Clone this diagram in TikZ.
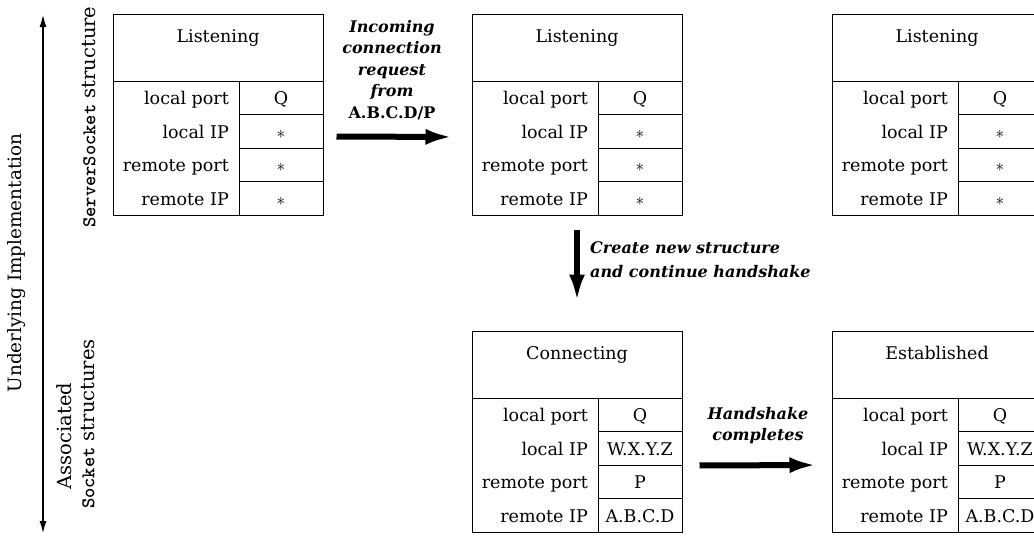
\documentclass[tikz,border=0pt]{standalone}
\usepackage{fontspec}
\setmainfont{DejaVu Serif}
\newfontfamily\codefont{lmmonolt10-bold.otf}
\usetikzlibrary{arrows.meta}

\begin{document}
\begin{tikzpicture}[x = 1pt, y = -1pt, font = \fontsize{17.5}{21}\selectfont]
	\tikzstyle{frameStyle} = [draw, line width = 1pt, inner sep = 0pt, minimum width = 210pt, minimum height = 201pt]
	\tikzstyle{keyStyle} = [draw, line width = 1pt, inner sep = 0pt, minimum width = 126pt, minimum height = 134pt]
	\tikzstyle{valStyle} = [draw, line width = 1pt, inner sep = 0pt, minimum width = 84pt, minimum height = 33.5pt, text height = 15pt, text depth = 1pt]
	\tikzstyle{titleStyle} = [anchor = base, inner sep = 0pt]
	\tikzstyle{fieldStyle} = [anchor = base east, inner sep = 0pt]
	\tikzstyle{noteStyle} = [align = center, inner sep = 0pt, font = \fontsize{16}{21.5}\selectfont\bfseries\itshape]
	\tikzstyle{sideStyle} = [rotate = 90, inner sep = 0pt, font = \fontsize{19.5}{23}\selectfont]
	\tikzstyle{fatArrow} = [line width = 6pt, -{Latex[length = 27pt, width = 16pt]}]
	\tikzstyle{axisArrow} = [line width = 1.2pt, {Latex[length = 12pt, width = 7pt]}-{Latex[length = 12pt, width = 7pt]}]
	\clip (0,0) rectangle (1034,539);

	% first listening structure
	\node[frameStyle] (listenA) at (218,114.5) {};
	\node[titleStyle] (listenA-t) at (218,42) {Listening};
	\node[keyStyle] (listenA-k) at (176,148) {};
	\node[valStyle] (listenA-v1) at (281,97.75) {Q};
	\node[valStyle] (listenA-v2) at (281,131.25) {$\ast$};
	\node[valStyle] (listenA-v3) at (281,164.75) {$\ast$};
	\node[valStyle] (listenA-v4) at (281,198.25) {$\ast$};
	\node[fieldStyle] (listenA-f1) at (229,104.75) {local port};
	\node[fieldStyle] (listenA-f2) at (229,138.25) {local IP};
	\node[fieldStyle] (listenA-f3) at (229,171.75) {remote port};
	\node[fieldStyle] (listenA-f4) at (229,205.25) {remote IP};

	% second listening structure
	\node[frameStyle] (listenB) at (577,114.5) {};
	\node[titleStyle] (listenB-t) at (577,42) {Listening};
	\node[keyStyle] (listenB-k) at (535,148) {};
	\node[valStyle] (listenB-v1) at (640,97.75) {Q};
	\node[valStyle] (listenB-v2) at (640,131.25) {$\ast$};
	\node[valStyle] (listenB-v3) at (640,164.75) {$\ast$};
	\node[valStyle] (listenB-v4) at (640,198.25) {$\ast$};
	\node[fieldStyle] (listenB-f1) at (588,104.75) {local port};
	\node[fieldStyle] (listenB-f2) at (588,138.25) {local IP};
	\node[fieldStyle] (listenB-f3) at (588,171.75) {remote port};
	\node[fieldStyle] (listenB-f4) at (588,205.25) {remote IP};

	% third listening structure
	\node[frameStyle] (listenC) at (937,114.5) {};
	\node[titleStyle] (listenC-t) at (937,42) {Listening};
	\node[keyStyle] (listenC-k) at (895,148) {};
	\node[valStyle] (listenC-v1) at (1000,97.75) {Q};
	\node[valStyle] (listenC-v2) at (1000,131.25) {$\ast$};
	\node[valStyle] (listenC-v3) at (1000,164.75) {$\ast$};
	\node[valStyle] (listenC-v4) at (1000,198.25) {$\ast$};
	\node[fieldStyle] (listenC-f1) at (948,104.75) {local port};
	\node[fieldStyle] (listenC-f2) at (948,138.25) {local IP};
	\node[fieldStyle] (listenC-f3) at (948,171.75) {remote port};
	\node[fieldStyle] (listenC-f4) at (948,205.25) {remote IP};

	% connecting structure
	\node[frameStyle] (connect) at (577,431.5) {};
	\node[titleStyle] (connect-t) at (577,359) {Connecting};
	\node[keyStyle] (connect-k) at (535,465) {};
	\node[valStyle] (connect-v1) at (640,414.75) {Q};
	\node[valStyle] (connect-v2) at (640,448.25) {W.X.Y.Z};
	\node[valStyle] (connect-v3) at (640,481.75) {P};
	\node[valStyle] (connect-v4) at (640,515.25) {A.B.C.D};
	\node[fieldStyle] (connect-f1) at (588,421.75) {local port};
	\node[fieldStyle] (connect-f2) at (588,455.25) {local IP};
	\node[fieldStyle] (connect-f3) at (588,488.75) {remote port};
	\node[fieldStyle] (connect-f4) at (588,522.25) {remote IP};

	% established structure
	\node[frameStyle] (establ) at (937,431.5) {};
	\node[titleStyle] (establ-t) at (937,359) {Established};
	\node[keyStyle] (establ-k) at (895,465) {};
	\node[valStyle] (establ-v1) at (1000,414.75) {Q};
	\node[valStyle] (establ-v2) at (1000,448.25) {W.X.Y.Z};
	\node[valStyle] (establ-v3) at (1000,481.75) {P};
	\node[valStyle] (establ-v4) at (1000,515.25) {A.B.C.D};
	\node[fieldStyle] (establ-f1) at (948,421.75) {local port};
	\node[fieldStyle] (establ-f2) at (948,455.25) {local IP};
	\node[fieldStyle] (establ-f3) at (948,488.75) {remote port};
	\node[fieldStyle] (establ-f4) at (948,522.25) {remote IP};

	% transitions
	\node[noteStyle, anchor = north] (reqNote) at (392,20) {Incoming\\connection\\request\\from\\{\upshape A.B.C.D/P}};
	\node[noteStyle, anchor = north west, align = left] (newNote) at (590,241) {Create new structure\\[3pt]and continue handshake};
	\node[noteStyle, anchor = north] (doneNote) at (758,407) {Handshake\\completes};
	\draw[fatArrow, shorten <= 13pt, shorten >= 19pt] ([yshift = 11pt]listenA-v3.north east) -- ([yshift = 11pt]listenB-k.west);
	\draw[fatArrow, shorten <= 14pt, shorten >= 29pt] (listenB.south) -- (connect.north);
	\draw[fatArrow, shorten <= 17pt, shorten >= 15pt] (connect-v2.south east) -- (establ-k.west);

	% side labels
	\coordinate (axisTop) at (43,15);
	\coordinate (axisBot) at (43,533);
	\draw[axisArrow] (axisTop) -- (axisBot);
	\node[sideStyle, font = \fontsize{18.4}{22}\selectfont] (implLabel) at (17,263) {Underlying Implementation};
	\node[sideStyle] (srvLabel) at (89,117) {{\codefont ServerSocket} structure};
	\node[sideStyle] (assocLabel) at (64,436) {Associated};
	\node[sideStyle] (sockLabel) at (88,424) {{\codefont Socket} structures};
\end{tikzpicture}
\end{document}
